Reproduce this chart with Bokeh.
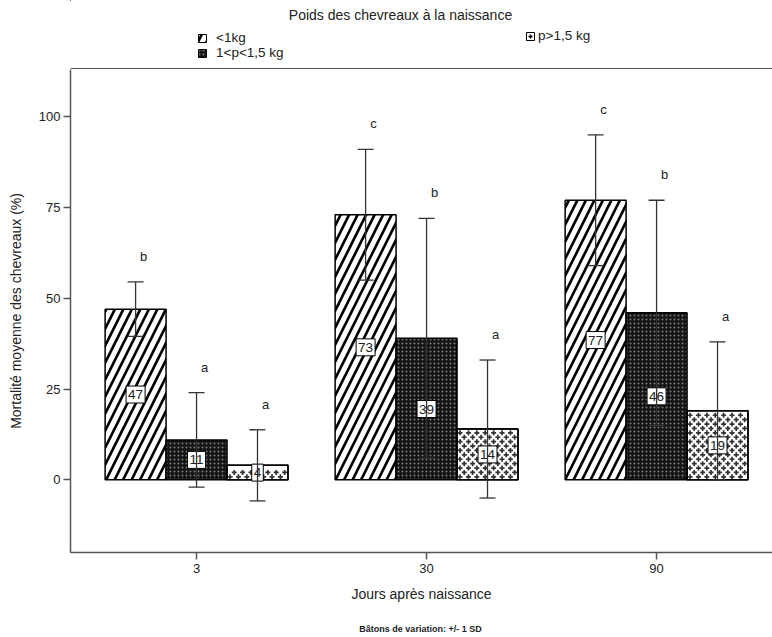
from bokeh.plotting import figure
from bokeh.layouts import column
from bokeh.models import (Range1d, FixedTicker, Legend, LegendItem,
                          ColumnDataSource)
from bokeh.core.properties import value
from bokeh.embed import file_html
from bokeh.resources import INLINE

# --- data -------------------------------------------------------------
days = ["3", "30", "90"]                      # jours après naissance
groups = ["<1kg", "1<p<1,5 kg", "p>1,5 kg"]   # poids à la naissance

mort_lt1 = [47, 73, 77]
mort_mid = [11, 39, 46]
mort_gt15 = [4, 14, 19]

sd_lt1 = [7.5, 18, 18]
sd_mid = [13, 33, 31]
sd_gt15 = [9.8, 19, 19]

letters_lt1 = ["b", "c", "c"]
letters_mid = ["a", "b", "b"]
letters_gt15 = ["a", "a", "a"]

FONT = "Liberation Sans"
AXIS_COL = "#555555"
TXT_COL = "#222222"
PLUS_COL = "#333333"
ERR_COL = "#333333"

styles = [
    dict(fill_color="white", hatch_pattern="/", hatch_color="black",
         hatch_scale=17, hatch_weight=2.7),
    dict(fill_color="#141414", hatch_pattern=".", hatch_color="#7a7a7a",
         hatch_scale=4, hatch_weight=1),
    dict(fill_color="white"),
]

W = 772
HEAD_H, FOOT_H = 69, 20
MAIN_H = 637 - HEAD_H - FOOT_H

# geometry of the main frame (pixels) used to lay out the plus texture
FRAME_W, FRAME_H = 702, 483
X0, X1 = -0.548, 2.504
Y0, Y1 = -20, 113
PX_X = FRAME_W / (X1 - X0)
PX_Y = FRAME_H / (Y1 - Y0)


def strip(height):
    f = figure(width=W, height=height, output_backend="svg", toolbar_location=None,
               x_range=Range1d(70, W), y_range=Range1d(height, 0),
               x_axis_type=None, y_axis_type=None,
               min_border_left=0, min_border_right=0,
               min_border_top=0, min_border_bottom=0)
    f.outline_line_color = None
    f.grid.visible = False
    return f


# --- header: title and legend -----------------------------------------
head = strip(HEAD_H)
head.text(x=[400], y=[14], text=["Poids des chevreaux à la naissance"],
          text_font=value(FONT), text_font_size="14px", text_color=TXT_COL,
          text_align="center", text_baseline="middle")
# top edge of the plotting frame
head.segment(x0=[70], y0=[HEAD_H - 0.75], x1=[W], y1=[HEAD_H - 0.75],
             line_color=AXIS_COL, line_width=1.5)

# off-screen key glyphs for the legend
key_src = ColumnDataSource(dict(x=[-1000], top=[-1000]))
keys = [head.vbar(x="x", top="top", bottom=-1001, width=1, source=key_src,
                  line_color="black", line_width=1, **st) for st in styles]
key_plus = head.scatter(x="x", y="top", source=key_src, marker="cross", size=7,
                        line_color="black", line_width=1.5)

legend_kw = dict(label_text_font=FONT, label_text_font_size="13.5px",
                 label_text_color=TXT_COL, glyph_width=10, glyph_height=10,
                 label_height=13, spacing=0, padding=0,
                 margin=0, border_line_color=None, background_fill_alpha=0)
leg1 = Legend(items=[LegendItem(label=groups[0], renderers=[keys[0]]),
                     LegendItem(label=groups[1], renderers=[keys[1]])],
              location=(127, 9), label_standoff=9, **legend_kw)
leg2 = Legend(items=[LegendItem(label=groups[2], renderers=[keys[2], key_plus])],
              location=(455, 26), label_standoff=3, **legend_kw)
head.add_layout(leg1)
head.add_layout(leg2)

# --- main chart -------------------------------------------------------
p = figure(width=W, height=MAIN_H, output_backend="svg", toolbar_location=None,
           x_range=Range1d(X0, X1), y_range=Range1d(Y0, Y1),
           min_border_left=70, min_border_right=0,
           min_border_top=0, min_border_bottom=85 - FOOT_H)
p.outline_line_color = None
p.grid.visible = False

series = [
    (mort_lt1, sd_lt1, letters_lt1),
    (mort_mid, sd_mid, letters_mid),
    (mort_gt15, sd_gt15, letters_gt15),
]

BAR_W = 0.265
offsets = [-BAR_W, 0.0, BAR_W]

sources = []
for k, (vals, sds, lets) in enumerate(series):
    xs = [i + offsets[k] for i in range(len(days))]
    src = ColumnDataSource(dict(
        x=xs, top=vals, sd=sds,
        upper=[v + s for v, s in zip(vals, sds)],
        lower=[v - s for v, s in zip(vals, sds)],
        mid=[v / 2 for v in vals],
        txt=[str(v) for v in vals],
        letter=lets,
        let_y=[v + s + 7 for v, s in zip(vals, sds)],
    ))
    sources.append(src)
    p.vbar(x="x", top="top", bottom=0, width=BAR_W, source=src,
           line_color="black", line_width=1.5, **styles[k])


# staggered plus texture inside the "p>1,5 kg" bars
def plus_texture(xs, tops, step_px=8.4, row_px=4.4, inset_px=3.0):
    px, py = [], []
    for xc, top in zip(xs, tops):
        left = xc - BAR_W / 2 + inset_px / PX_X
        right = xc + BAR_W / 2 - inset_px / PX_X
        y = inset_px / PX_Y
        row = 0
        while y <= top - inset_px / PX_Y:
            x = left + (step_px / 2 / PX_X if row % 2 else 0)
            while x <= right:
                px.append(x)
                py.append(y)
                x += step_px / PX_X
            y += row_px / PX_Y
            row += 1
    return px, py


tx, ty = plus_texture(sources[2].data["x"], mort_gt15)
p.scatter(x=tx, y=ty, marker="cross", size=5, line_color=PLUS_COL, line_width=1.7)
# redraw the outline of those bars on top of the texture
p.vbar(x="x", top="top", bottom=0, width=BAR_W, source=sources[2],
       fill_color=None, line_color="black", line_width=1.5)

# value boxes and significance letters
for src in sources:
    p.text(x="x", y="mid", text="txt", source=src,
           text_font=value(FONT), text_font_size="13.5px", text_color=TXT_COL,
           text_align="center", text_baseline="middle",
           background_fill_color="white", border_line_color="black",
           border_line_width=1, padding=(2, 4))
    p.text(x="x", y="let_y", text="letter", source=src, x_offset=8,
           text_font=value(FONT), text_font_size="13px", text_color=TXT_COL,
           text_align="center", text_baseline="middle")

# error bars (+/- 1 SD), drawn over the value boxes
for src in sources:
    p.segment(x0="x", y0="lower", x1="x", y1="upper", source=src,
              line_color=ERR_COL, line_width=1.3)
    p.scatter(x="x", y="upper", marker="dash", size=16, source=src,
              line_color=ERR_COL, line_width=1.3)
    p.scatter(x="x", y="lower", marker="dash", size=16, source=src,
              line_color=ERR_COL, line_width=1.3)

# axes
p.yaxis.ticker = FixedTicker(ticks=[0, 25, 50, 75, 100])
p.yaxis.axis_label = "Mortalité moyenne des chevreaux (%)"
p.xaxis.ticker = FixedTicker(ticks=list(range(len(days))))
p.xaxis.major_label_overrides = {i: d for i, d in enumerate(days)}
p.xaxis.axis_label = "Jours après naissance"
for ax in (p.xaxis[0], p.yaxis[0]):
    ax.axis_line_color = AXIS_COL
    ax.axis_line_width = 1.5
    ax.major_tick_line_color = AXIS_COL
    ax.major_tick_line_width = 1.5
    ax.major_tick_in = 0
    ax.major_tick_out = 7
    ax.minor_tick_line_color = None
    ax.major_label_text_font = FONT
    ax.major_label_text_font_size = "13px"
    ax.major_label_text_color = TXT_COL
    ax.axis_label_text_font = FONT
    ax.axis_label_text_font_size = "14px"
    ax.axis_label_text_font_style = "normal"
    ax.axis_label_text_color = TXT_COL
p.yaxis.major_label_standoff = 3
p.yaxis.axis_label_standoff = 12
p.xaxis.major_label_standoff = 4
p.xaxis.axis_label_standoff = 10

# --- footer: error bar note --------------------------------------------
foot = strip(FOOT_H)
foot.text(x=[420], y=[11], text=["Bâtons de variation: +/- 1 SD"],
          text_font=value(FONT), text_font_size="9px", text_font_style="bold",
          text_color=TXT_COL, text_align="center", text_baseline="middle")

layout = column(head, p, foot, spacing=0)
open("out.html", "w").write(file_html(layout, INLINE))
